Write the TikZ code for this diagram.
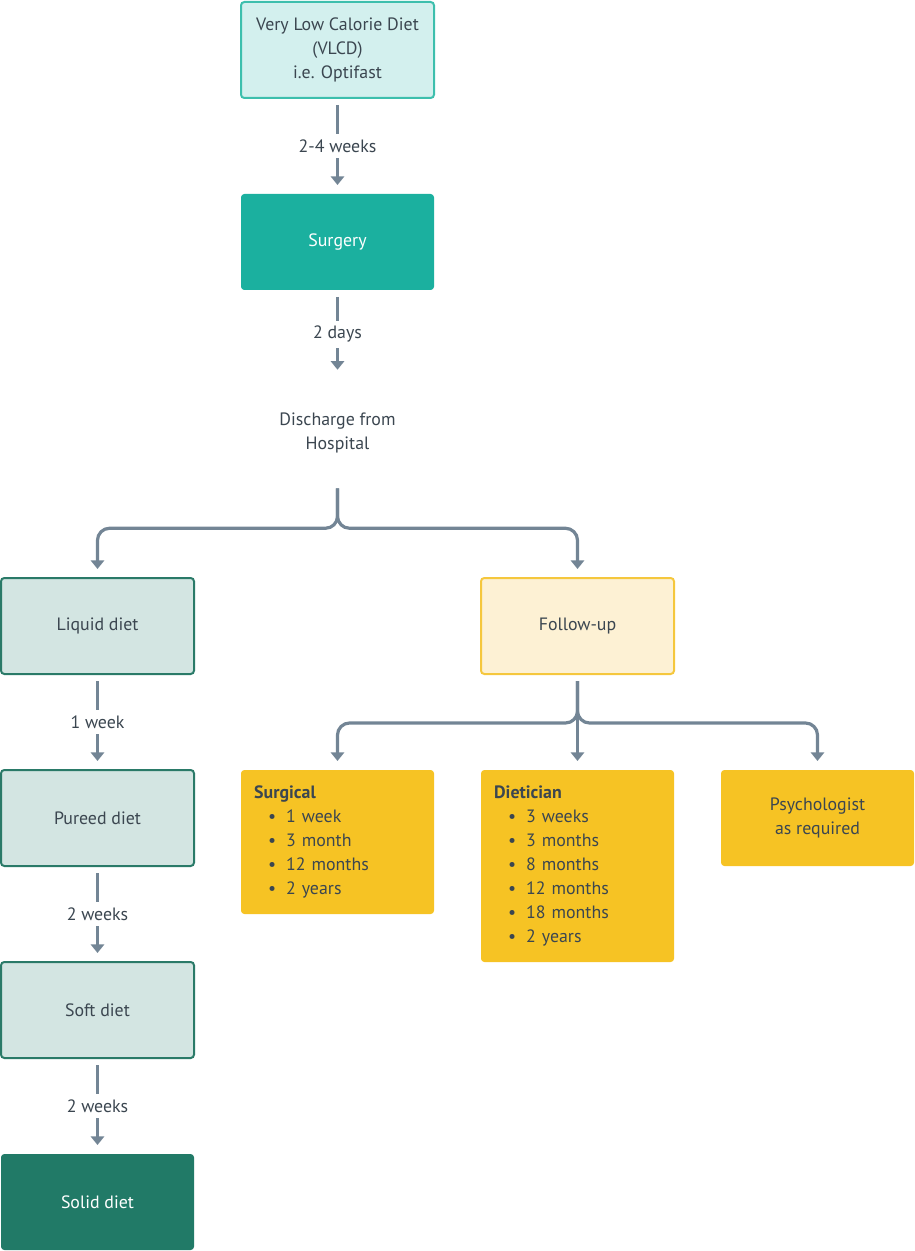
\documentclass[tikz,border=0pt]{standalone}
\usepackage{fontspec}
\setmainfont{PT Sans}
\usetikzlibrary{arrows.meta}

\definecolor{txt}{HTML}{3B4650}
\definecolor{arr}{HTML}{738595}
\definecolor{vlcdfill}{HTML}{D3F0EE}
\definecolor{vlcdline}{HTML}{3DBFAD}
\definecolor{teal}{HTML}{1BB09F}
\definecolor{dietfill}{HTML}{D3E5E2}
\definecolor{dietline}{HTML}{2A7A68}
\definecolor{solid}{HTML}{217A67}
\definecolor{followfill}{HTML}{FDF1D4}
\definecolor{followline}{HTML}{F5C73D}
\definecolor{gold}{HTML}{F6C324}

\newcommand{\itm}[1]{\hspace*{10.5pt}\makebox[13.5pt][l]{\textbullet}#1}

\tikzset{
    box/.style={rectangle, rounded corners=2.5pt, minimum width=144.75pt,
        minimum height=72pt, line width=1.5pt, text=txt, align=center,
        font=\fontsize{13.4}{18}\selectfont},
    listbox/.style={box, fill=gold, align=left, text width=125pt, inner xsep=9.75pt},
    flow/.style={draw=arr, line width=2.4pt, -{Triangle[length=6.5pt,width=10pt]},
        shorten <=4.5pt, shorten >=6pt},
    branch/.style={flow, rounded corners=9pt},
    lbl/.style={fill=white, text=txt, inner xsep=2pt, inner ysep=4pt,
        font=\fontsize{13.4}{18}\selectfont}
}

\begin{document}
\begin{tikzpicture}[x=0.75pt, y=-0.75pt]
    \useasboundingbox (0, 0) rectangle (914, 1251);
    % top of the pathway
    \node[box, fill=vlcdfill, draw=vlcdline] (vlcd) at (337.5, 50) {Very Low Calorie Diet\\(VLCD)\\i.e. Optifast};
    \node[box, fill=teal, text=white] (surgery) at (337.5, 242) {Surgery};
    \node[text=txt, align=center, minimum height=82.5pt, inner sep=0pt,
        font=\fontsize{13.4}{18}\selectfont] (discharge) at (337.5, 433) {Discharge from\\Hospital};
    % diet column
    \node[box, fill=dietfill, draw=dietline] (liquid) at (97.5, 626) {Liquid diet};
    \node[box, fill=dietfill, draw=dietline] (pureed) at (97.5, 818) {Pureed diet};
    \node[box, fill=dietfill, draw=dietline] (soft) at (97.5, 1010) {Soft diet};
    \node[box, fill=solid, text=white] (solid) at (97.5, 1202) {Solid diet};
    % follow-up
    \node[box, fill=followfill, draw=followline] (followup) at (577.5, 626) {Follow-up};
    \node[listbox, minimum height=108pt] (surgical) at (337.5, 842) {\textbf{Surgical}\\
        \itm{1 week}\\ \itm{3 month}\\ \itm{12 months}\\ \itm{2 years}};
    \node[listbox, minimum height=144pt] (dietician) at (577.5, 866) {\textbf{Dietician}\\
        \itm{3 weeks}\\ \itm{3 months}\\ \itm{8 months}\\ \itm{12 months}\\
        \itm{18 months}\\ \itm{2 years}};
    \node[box, fill=gold] (psych) at (817.5, 818) {Psychologist\\as required};

    \draw[flow] (vlcd) -- node[lbl]{2-4 weeks} (surgery);
    \draw[flow] (surgery) -- node[lbl]{2 days} (discharge);
    \draw[flow] (liquid) -- node[lbl]{1 week} (pureed);
    \draw[flow] (pureed) -- node[lbl]{2 weeks} (soft);
    \draw[flow] (soft) -- node[lbl]{2 weeks} (solid);

    \draw[branch, shorten <=0pt] (discharge.south) -- ++(0, 40) -| (liquid.north);
    \draw[branch, shorten <=0pt] (discharge.south) -- ++(0, 40) -| (followup.north);
    \draw[branch] (followup.south) -- ++(0, 48) -| (surgical.north);
    \draw[branch] (followup.south) -- ++(0, 48) -| (psych.north);
    \draw[flow] (followup.south) -- (dietician.north);
\end{tikzpicture}
\end{document}
